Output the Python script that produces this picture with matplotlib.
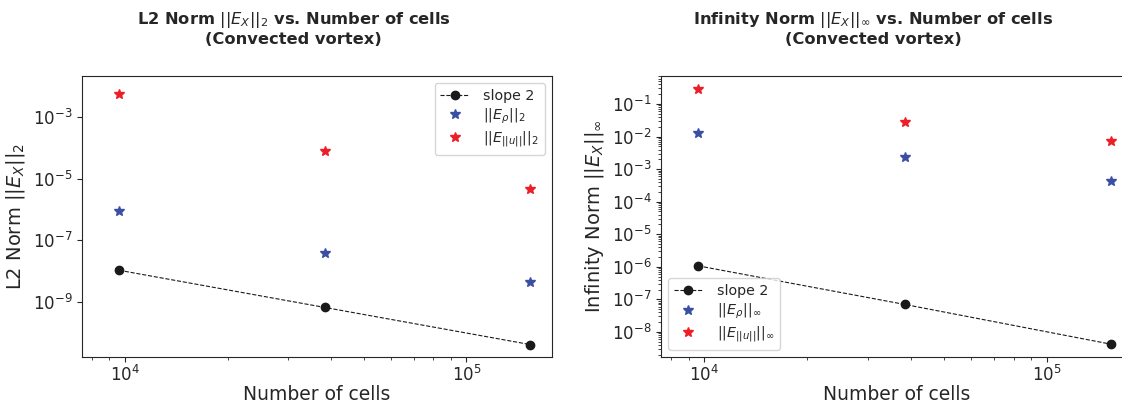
import numpy as np
import matplotlib

matplotlib.use("Agg")
import matplotlib.pyplot as plt

# number of cells for the three meshes
cells = [9600, 38400, 153600]

# L2 norm errors
l2_slope = [1.07e-8, 6.7e-10, 4.2e-11]
l2_rho = [8.7e-7, 3.8e-8, 4.4e-9]
l2_u = [5.5e-3, 8.0e-5, 4.5e-6]

# infinity norm errors
inf_slope = [1.07e-6, 7.0e-8, 4.2e-9]
inf_rho = [1.3e-2, 2.4e-3, 4.3e-4]
inf_u = [0.29, 2.9e-2, 7.5e-3]

BLUE = "#3a4fa3"
RED = "#ec1e28"
DARK = "#262626"

plt.rcParams.update({
    "font.family": "DejaVu Sans",
    "text.color": DARK,
    "axes.labelcolor": DARK,
    "xtick.color": DARK,
    "ytick.color": DARK,
    "axes.edgecolor": DARK,
    "xtick.labelsize": 12,
    "ytick.labelsize": 12,
    "xtick.major.pad": 2.5,
    "legend.fontsize": 10.3,
})

fig = plt.figure(figsize=(11.22, 4.03), dpi=100)
ax1 = fig.add_axes([82 / 1122, 46 / 403, 470 / 1122, 281 / 403])
ax2 = fig.add_axes([661 / 1122, 46 / 403, 472 / 1122, 281 / 403])

panels = [
    (ax1, l2_slope, l2_rho, l2_u, "2", "L2 Norm", (10**-10.78, 10**-1.68), "upper right"),
    (ax2, inf_slope, inf_rho, inf_u, r"\infty", "Infinity Norm", (10**-8.77, 10**-0.14), "lower left"),
]

for ax, slope, rho, u, sub, name, ylim, loc in panels:
    ax.plot(cells, slope, "--o", color="#1a1a1a", lw=0.8, ms=6, label="slope 2")
    ax.plot(cells, rho, "*", color=BLUE, ms=7, ls="none", label=rf"$||E_\rho||_{{{sub}}}$")
    ax.plot(cells, u, "*", color=RED, ms=7, ls="none", label=rf"$||E_{{||u||}}||_{{{sub}}}$")
    ax.set_xscale("log")
    ax.set_yscale("log")
    ax.set_xlim(7480, 178000)
    ax.set_ylim(*ylim)
    ax.set_xlabel("Number of cells", fontsize=13.5, labelpad=0)
    ax.set_ylabel(rf"{name} $||E_X||_{{{sub}}}$", fontsize=14)
    ax.set_title(rf"{name} $||E_X||_{{{sub}}}$ vs. Number of cells" + "\n(Convected vortex)",
                 fontsize=11.7, fontweight="bold", pad=23, x=0.45)
    ax.legend(loc=loc, labelspacing=0.25, handletextpad=1.0)

fig.savefig("out.png", dpi=100)
